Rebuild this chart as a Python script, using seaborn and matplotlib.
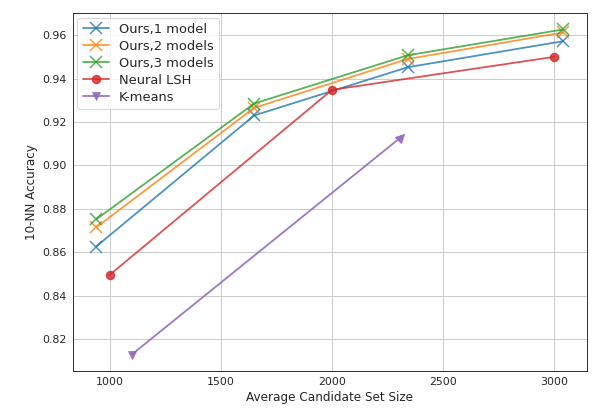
import matplotlib.pyplot as plt
import pandas as pd
import seaborn as sns
from matplotlib.markers import MarkerStyle
from matplotlib.transforms import Affine2D

# Valores
ours1_x = [940, 1650, 2340, 3040]
ours1_y = [0.8627, 0.9230, 0.9452, 0.9572]
ours2_x = [940, 1650, 2340, 3040]
ours2_y = [0.8715, 0.9265, 0.9490, 0.9612]
ours3_x = [940, 1650, 2340, 3040]
ours3_y = [0.8752, 0.9285, 0.9507, 0.9626]
lsh_x = [1000, 2000, 3000]
lsh_y = [0.8496, 0.9348, 0.9500]
kmeans_x = [1100, 2310]
kmeans_y = [0.8130, 0.9130]

sns.set_style("whitegrid")
plt.rcParams['font.family'] = ['DejaVu Sans']

fig, ax = plt.subplots(figsize=(592 / 72, 412 / 72), dpi=72)

series = [
    ('Ours,1 model', ours1_x, ours1_y, 'x', 12),
    ('Ours,2 models', ours2_x, ours2_y, 'x', 12),
    ('Ours,3 models', ours3_x, ours3_y, 'x', 12),
    ('Neural LSH', lsh_x, lsh_y, 'o', 8),
]
colors = sns.color_palette('tab10')

for i, (name, xs, ys, mk, ms) in enumerate(series):
    df = pd.DataFrame({'x': xs, 'y': ys})
    sns.lineplot(data=df, x='x', y='y', ax=ax, color=colors[i], marker=mk,
                 markersize=ms, markeredgewidth=1.5, linewidth=1.8, alpha=0.8,
                 label=name, markeredgecolor=colors[i])

# K-means: triângulo no início e ponta de seta no fim
df_k = pd.DataFrame({'x': kmeans_x, 'y': kmeans_y})
sns.lineplot(data=df_k, x='x', y='y', ax=ax, color=colors[4], marker='v',
             markersize=8, markevery=[0], linewidth=1.8, alpha=0.9,
             label='K-means', markeredgecolor=colors[4])
arrow = MarkerStyle('^', transform=Affine2D().rotate_deg(-40))
ax.plot(kmeans_x[-1:], kmeans_y[-1:], linestyle='none', marker=arrow,
        markersize=8, color=colors[4], alpha=0.9)

ax.set_xlabel('Average Candidate Set Size', fontsize=12)
ax.set_ylabel('10-NN Accuracy', fontsize=12)
ax.tick_params(labelsize=11, length=3, color='#444444')
for s in ax.spines.values():
    s.set_color('#333333')
    s.set_linewidth(1.0)
ax.grid(color='#cccccc', linewidth=1)
ax.legend(loc='upper left', fontsize=13, frameon=True, borderaxespad=0.35,
          labelspacing=0.3)
ax.margins(0.05)

fig.subplots_adjust(left=0.123, right=0.991, top=0.968, bottom=0.1)
fig.savefig('out.png', dpi=72)
